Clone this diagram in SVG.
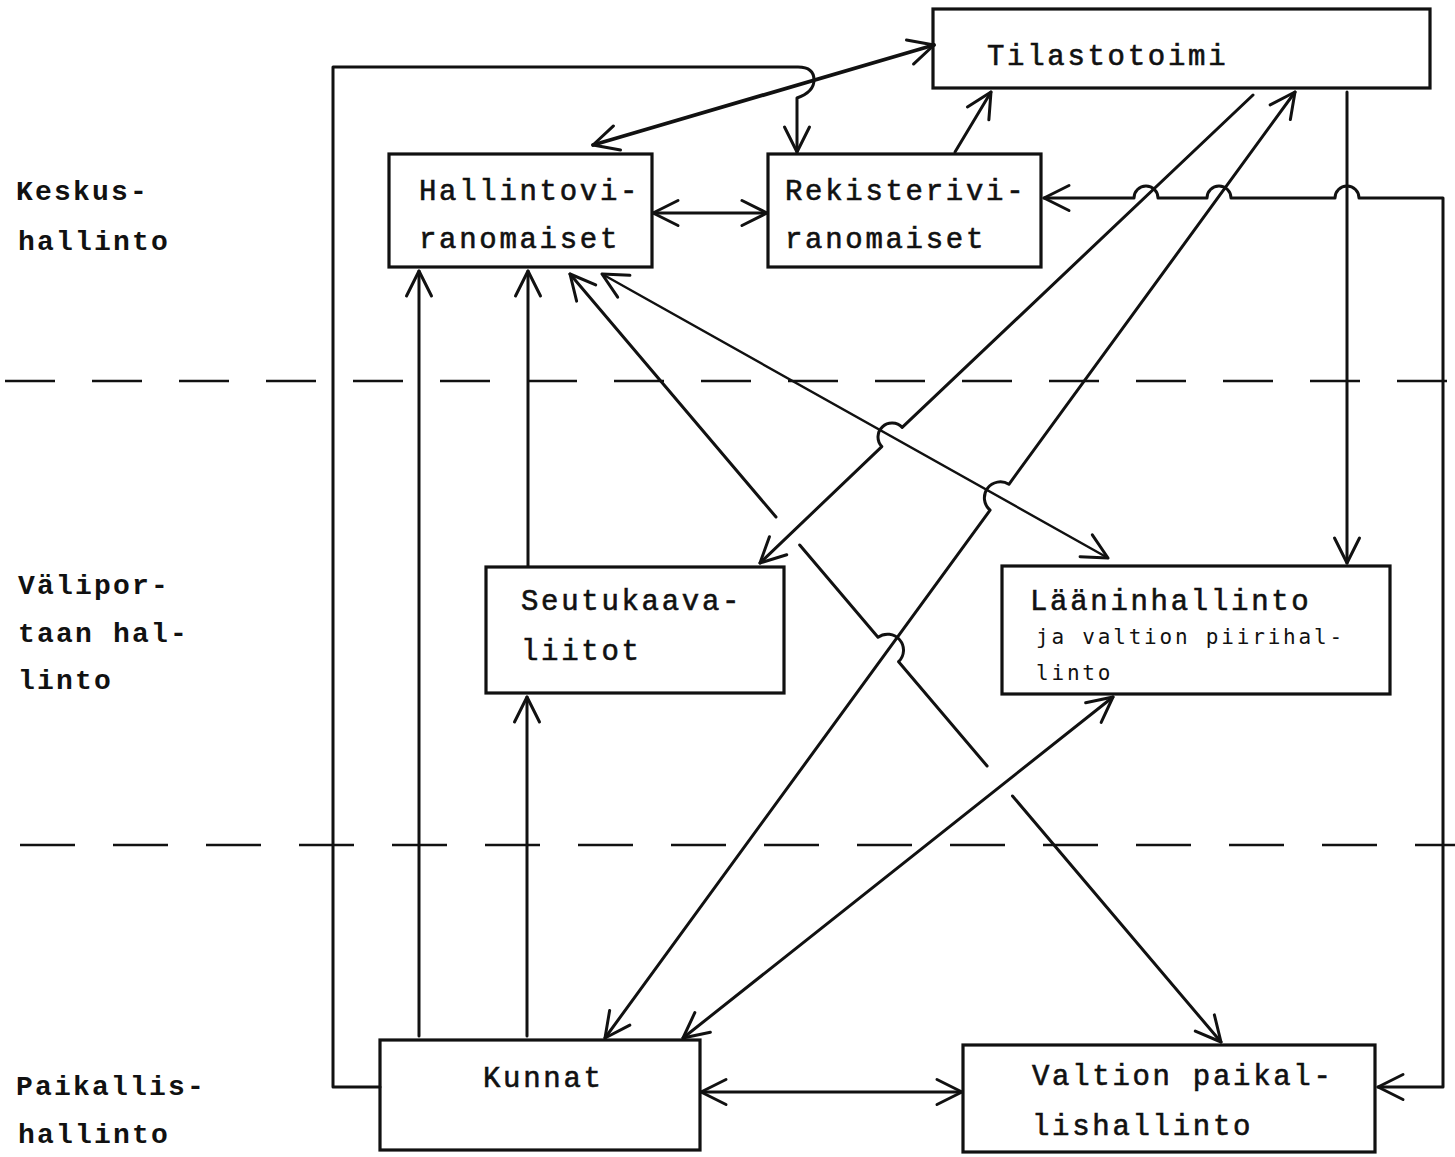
<svg xmlns="http://www.w3.org/2000/svg" width="1455" height="1157" viewBox="0 0 1455 1157">
  <style>
    .box { fill: none; stroke: #111; stroke-width: 3.2; }
    .t { font-family: "Liberation Mono", "DejaVu Sans Mono", monospace; font-size: 29px; letter-spacing: 2.7px; fill: #111; stroke: #111; stroke-width: 0.6; }
    .lab { font-family: "Liberation Mono", "DejaVu Sans Mono", monospace; font-size: 28px; font-weight: bold; letter-spacing: 2.2px; fill: #111; }
    .small { font-family: "DejaVu Sans Mono", "Liberation Mono", monospace; font-size: 21px; letter-spacing: 2.8px; fill: #111; }
    .c { fill: none; stroke: #111; stroke-width: 3; stroke-linecap: round; stroke-linejoin: round; }
    .thin { stroke-width: 2.4; }
    .thick { stroke-width: 3.8; }
    .dash { fill: none; stroke: #111; stroke-width: 2.6; }
  </style>
  <defs>
    <marker id="ah" viewBox="-28 -16 32 32" refX="0" refY="0" markerWidth="32" markerHeight="32" markerUnits="userSpaceOnUse" orient="auto-start-reverse" overflow="visible">
      <path d="M-25,-12.5 L0,0 L-25,12.5" fill="none" stroke="#111" stroke-width="3" stroke-linecap="round" stroke-linejoin="round"/>
    </marker>
  </defs>

  <rect width="1455" height="1157" fill="#fff"/>

  <!-- level separators -->
  <g id="separators">
    <line class="dash" x1="5" y1="381" x2="1455" y2="381" stroke-dasharray="50 37"/>
    <line class="dash" x1="20" y1="845" x2="1455" y2="845" stroke-dasharray="55 38"/>
  </g>

  <!-- level labels -->
  <g id="levels">
    <text class="lab" x="16" y="200">Keskus-</text>
    <text class="lab" x="18" y="250">hallinto</text>
    <text class="lab" x="18" y="594">Välipor-</text>
    <text class="lab" x="18" y="642">taan hal-</text>
    <text class="lab" x="18" y="689">linto</text>
    <text class="lab" x="16" y="1095">Paikallis-</text>
    <text class="lab" x="18" y="1143">hallinto</text>
  </g>

  <!-- connectors -->
  <g id="connectors">
    <!-- Kunnat -> Rekisteriviranomaiset (outer left loop) -->
    <path class="c" d="M380,1087 H333 V67 H798 Q814,67 814,80 Q814,92 797,98 V152" marker-end="url(#ah)"/>
    <!-- Tilastotoimi <-> Hallintoviranomaiset -->
    <path class="c thick" d="M934,45 L593,145" marker-start="url(#ah)" marker-end="url(#ah)"/>
    <!-- Hallintoviranomaiset <-> Rekisteriviranomaiset -->
    <path class="c" d="M653,213 H767" marker-start="url(#ah)" marker-end="url(#ah)"/>
    <!-- Rekisteriviranomaiset -> Tilastotoimi -->
    <path class="c" d="M955,152 L991,92" marker-end="url(#ah)"/>
    <!-- Tilastotoimi -> Seutukaavaliitot (hops over Hallinto-Lääni line) -->
    <path class="c" d="M1253,95 L902.2,427.4 A14,14 0 0 0 881.8,446.6 L760,563" marker-end="url(#ah)"/>
    <!-- Kunnat <-> Tilastotoimi (hops over Hallinto-Lääni line) -->
    <path class="c" d="M605,1038 L990.1,510.1 A16,16 0 0 1 1008.9,484.3 L1295,92" marker-start="url(#ah)" marker-end="url(#ah)"/>
    <!-- Kunnat <-> Lääninhallinto -->
    <path class="c" d="M683,1038 L1113,697" marker-start="url(#ah)" marker-end="url(#ah)"/>
    <!-- Hallintoviranomaiset <-> Lääninhallinto -->
    <path class="c thin" d="M602,274 L1108,558" marker-start="url(#ah)" marker-end="url(#ah)"/>
    <!-- Hallintoviranomaiset <-> Valtion paikallishallinto -->
    <path class="c" d="M570,274 L776,517 M799.7,545 L878,637.3 A16,16 0 0 1 898.6,661.7 L987.1,766 M1012.5,796 L1221,1042" marker-start="url(#ah)" marker-end="url(#ah)"/>
    <!-- Kunnat -> Hallintoviranomaiset -->
    <path class="c" d="M419,1036 V271" marker-end="url(#ah)"/>
    <!-- Seutukaavaliitot -> Hallintoviranomaiset -->
    <path class="c" d="M528,566 V271" marker-end="url(#ah)"/>
    <!-- Kunnat -> Seutukaavaliitot -->
    <path class="c" d="M527,1036 V697" marker-end="url(#ah)"/>
    <!-- Tilastotoimi -> Lääninhallinto -->
    <path class="c" d="M1347,92 V563" marker-end="url(#ah)"/>
    <!-- Valtion paikallishallinto <-> Rekisteriviranomaiset (outer right loop) -->
    <path class="c" d="M1378,1087 H1443 V198 H1359 A12,12 0 0 0 1335,198 H1231 A12,12 0 0 0 1207,198 H1158 A12,12 0 0 0 1134,198 H1044" marker-start="url(#ah)" marker-end="url(#ah)"/>
    <!-- Kunnat <-> Valtion paikallishallinto -->
    <path class="c" d="M701,1092 H962" marker-start="url(#ah)" marker-end="url(#ah)"/>
  </g>

  <!-- nodes -->
  <g id="tilastotoimi">
    <rect class="box" x="933" y="9" width="497" height="79"/>
    <text class="t" x="987" y="65">Tilastotoimi</text>
  </g>
  <g id="hallintoviranomaiset">
    <rect class="box" x="389" y="154" width="263" height="113"/>
    <text class="t" x="419" y="200">Hallintovi-</text>
    <text class="t" x="419" y="248">ranomaiset</text>
  </g>
  <g id="rekisteriviranomaiset">
    <rect class="box" x="768" y="154" width="273" height="113"/>
    <text class="t" x="785" y="200">Rekisterivi-</text>
    <text class="t" x="785" y="248">ranomaiset</text>
  </g>
  <g id="seutukaavaliitot">
    <rect class="box" x="486" y="567" width="298" height="126"/>
    <text class="t" x="521" y="610">Seutukaava-</text>
    <text class="t" x="521" y="660">liitot</text>
  </g>
  <g id="lääninhallinto">
    <rect class="box" x="1002" y="566" width="388" height="128"/>
    <text class="t" x="1030" y="610">Lääninhallinto</text>
    <text class="small" x="1036" y="644">ja valtion piirihal-</text>
    <text class="small" x="1036" y="680">linto</text>
  </g>
  <g id="kunnat">
    <rect class="box" x="380" y="1040" width="320" height="110"/>
    <text class="t" x="483" y="1087">Kunnat</text>
  </g>
  <g id="valtion-paikallishallinto">
    <rect class="box" x="963" y="1045" width="412" height="107"/>
    <text class="t" x="1032" y="1085">Valtion paikal-</text>
    <text class="t" x="1032" y="1135">lishallinto</text>
  </g>
</svg>
